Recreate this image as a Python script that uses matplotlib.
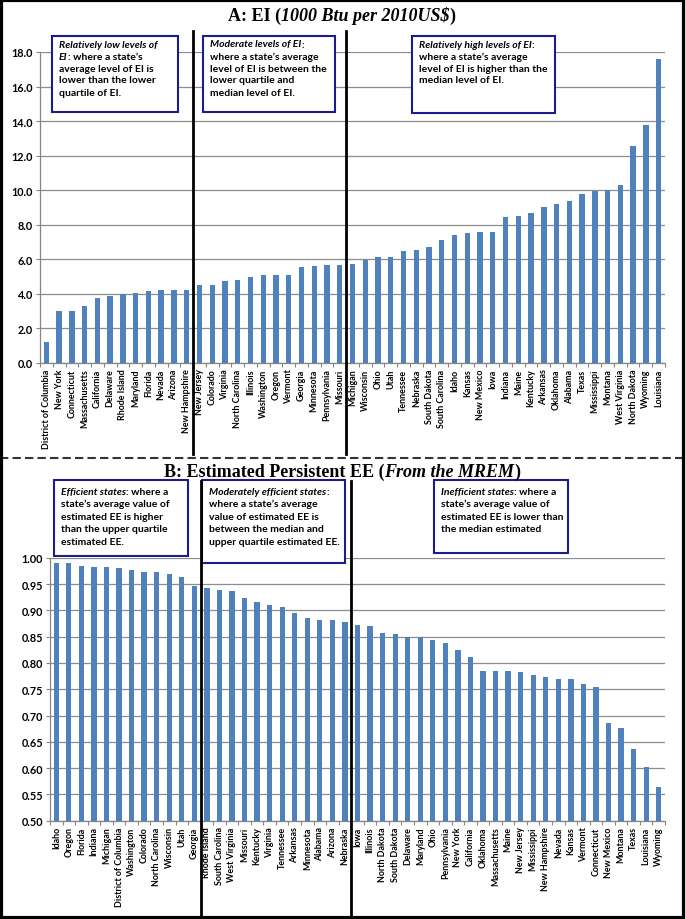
import matplotlib
matplotlib.use('Agg')
import matplotlib.pyplot as plt
from matplotlib.transforms import blended_transform_factory
from matplotlib.patches import Rectangle
from matplotlib.lines import Line2D
import numpy as np

# ---------------- data ----------------
ei_states = ["District of Columbia", "New York", "Connecticut", "Massachusetts", "California",
             "Delaware", "Rhode Island", "Maryland", "Florida", "Nevada", "Arizona", "New Hampshire",
             "New Jersey", "Colorado", "Virginia", "North Carolina", "Illinois", "Washington",
             "Oregon", "Vermont", "Georgia", "Minnesota", "Pennsylvania", "Missouri",
             "Michigan", "Wisconsin", "Ohio", "Utah", "Tennessee", "Nebraska", "South Dakota",
             "South Carolina", "Idaho", "Kansas", "New Mexico", "Iowa", "Indiana", "Maine",
             "Kentucky", "Arkansas", "Oklahoma", "Alabama", "Texas", "Mississippi", "Montana",
             "West Virginia", "North Dakota", "Wyoming", "Louisiana"]
ei_values = [1.24, 3.01, 3.03, 3.28, 3.78, 3.90, 4.00, 4.05, 4.15, 4.21, 4.21, 4.23,
             4.52, 4.52, 4.77, 4.83, 5.00, 5.08, 5.10, 5.10, 5.56, 5.62, 5.68, 5.70,
             5.75, 5.97, 6.14, 6.16, 6.49, 6.56, 6.70, 7.12, 7.39, 7.53, 7.59, 7.59,
             8.44, 8.49, 8.69, 9.03, 9.23, 9.38, 9.81, 9.94, 10.00, 10.33, 12.57, 13.80, 17.62]

ee_states = ["Idaho", "Oregon", "Florida", "Indiana", "Michigan", "District of Columbia",
             "Washington", "Colorado", "North Carolina", "Wisconsin", "Utah", "Georgia",
             "Rhode Island", "South Carolina", "West Virginia", "Missouri", "Kentucky", "Virginia",
             "Tennessee", "Arkansas", "Minnesota", "Alabama", "Arizona", "Nebraska",
             "Iowa", "Illinois", "North Dakota", "South Dakota", "Delaware", "Maryland", "Ohio",
             "Pennsylvania", "New York", "California", "Oklahoma", "Massachusetts", "Maine",
             "New Jersey", "Mississippi", "New Hampshire", "Nevada", "Kansas", "Vermont",
             "Connecticut", "New Mexico", "Montana", "Texas", "Louisiana", "Wyoming"]
ee_values = [0.990, 0.990, 0.984, 0.982, 0.982, 0.980, 0.977, 0.973, 0.973, 0.969, 0.963, 0.946,
             0.942, 0.939, 0.936, 0.924, 0.916, 0.911, 0.907, 0.895, 0.885, 0.882, 0.882, 0.877,
             0.873, 0.871, 0.857, 0.855, 0.849, 0.849, 0.843, 0.838, 0.824, 0.812, 0.785, 0.784,
             0.784, 0.782, 0.777, 0.774, 0.769, 0.769, 0.759, 0.754, 0.686, 0.676, 0.636, 0.603,
             0.565]

ei_yticks = [0, 2, 4, 6, 8, 10, 12, 14, 16, 18]
ee_yticks = [0.50, 0.55, 0.60, 0.65, 0.70, 0.75, 0.80, 0.85, 0.90, 0.95, 1.00]
ei_dividers = [11.5, 23.5]
ee_dividers = [11.5, 23.5]

title_a = [("A: EI (", False), ("1000 Btu per 2010US\\$", True), (")", False)]
title_b = [("B: Estimated Persistent EE (", False), ("From the MREM", True), (")", False)]

boxes_a = [
    [[("Relatively low levels of", True)],
     [("EI", True), (": where a state\u2019s", False)],
     [("average level of EI is", False)],
     [("lower than the lower", False)],
     [("quartile of EI.", False)]],
    [[("Moderate levels of EI", True), (":", False)],
     [("where a state\u2019s average", False)],
     [("level of EI is between the", False)],
     [("lower quartile and", False)],
     [("median level of EI.", False)]],
    [[("Relatively high levels of EI", True), (":", False)],
     [("where a state\u2019s average", False)],
     [("level of EI is higher than the", False)],
     [("median level of EI.", False)]],
]
boxes_b = [
    [[("Efficient states", True), (": where a", False)],
     [("state\u2019s average value of", False)],
     [("estimated EE is higher", False)],
     [("than the upper quartile", False)],
     [("estimated EE.", False)]],
    [[("Moderately efficient states", True), (":", False)],
     [("where a state\u2019s average", False)],
     [("value of estimated EE is", False)],
     [("between the median and", False)],
     [("upper quartile estimated EE.", False)]],
    [[("Inefficient states", True), (": where a", False)],
     [("state\u2019s average value of", False)],
     [("estimated EE is lower than", False)],
     [("the median estimated", False)]],
]

# ---------------- figure ----------------
W, H = 685, 920
fig = plt.figure(figsize=(W / 100, H / 100), dpi=100)
fig.patch.set_facecolor('white')
renderer = fig.canvas.get_renderer()
SANS = 'Lato'
SERIF = 'Liberation Serif'
BAR = '#4F81BD'
GRID = '#8c8c8c'
AXC = '#868686'


def fxy(x, y):
    return x / W, 1 - y / H


def draw_runs(x_px, y_px, runs, size, family, ha='left'):
    objs, widths = [], []
    for s, it in runs:
        t = fig.text(0, 0, s, fontsize=size, family=family, weight='bold',
                     style='italic' if it else 'normal', va='baseline', ha='left', zorder=6)
        widths.append(t.get_window_extent(renderer).width)
        objs.append(t)
    x0 = x_px - sum(widths) / 2 if ha == 'center' else x_px
    for t, w in zip(objs, widths):
        t.set_position(fxy(x0, y_px))
        x0 += w


def setup_axis(ax, states, values, yticks, fmt, ylim):
    x = np.arange(len(states))
    ax.bar(x, values, width=0.42, color=BAR, zorder=3)
    ax.set_xlim(-0.5, len(states) - 0.5)
    ax.set_ylim(*ylim)
    ax.set_yticks(yticks)
    ax.set_yticklabels([fmt % v for v in yticks], fontsize=7.8, family=SANS, weight='bold')
    ax.set_xticks(x)
    ax.set_xticklabels(states, rotation=90, fontsize=6.4, family=SANS, weight='bold')
    ax.set_xticks(np.arange(-0.5, len(states), 1), minor=True)
    ax.tick_params(axis='x', which='major', length=0, pad=4)
    ax.tick_params(axis='x', which='minor', length=3, color=AXC, width=0.8)
    ax.tick_params(axis='y', length=3, color=AXC, width=0.8, pad=2)
    for s in ['top', 'right']:
        ax.spines[s].set_visible(False)
    for s in ['left', 'bottom']:
        ax.spines[s].set_color(AXC)
        ax.spines[s].set_linewidth(0.9)
    ax.yaxis.grid(True, color=GRID, lw=0.9, zorder=0)
    ax.set_axisbelow(True)


axA = fig.add_axes([40 / W, 1 - 364 / H, 625 / W, 311 / H])
setup_axis(axA, ei_states, ei_values, ei_yticks, '%.1f', (0, 18))
axB = fig.add_axes([50 / W, 1 - 821.7 / H, 615 / W, 263 / H])
setup_axis(axB, ee_states, ee_values, ee_yticks, '%.2f', (0.5, 1.0))

# vertical dividers
trA = blended_transform_factory(axA.transData, fig.transFigure)
for d in ei_dividers:
    fig.add_artist(Line2D([d, d], [1 - 32 / H, 1 - 455 / H], transform=trA,
                          color='black', lw=2, zorder=10))
trB = blended_transform_factory(axB.transData, fig.transFigure)
for d in ee_dividers:
    fig.add_artist(Line2D([d, d], [1 - 482 / H, 1 - 918 / H], transform=trB,
                          color='black', lw=2, zorder=10))

# titles
draw_runs(342, 21, title_a, 13, SERIF, ha='center')
draw_runs(342, 477, title_b, 13, SERIF, ha='center')

# boxes
BOXC = '#1c1c8e'
box_a_geom = [(52, 37, 178, 113), (203, 37, 335, 113), (412, 37, 555, 114)]
box_b_geom = [(54, 481, 188, 557), (202, 481, 345, 564), (434, 481, 568, 554)]
for lines, (x0, y0, x1, y1) in zip(boxes_a, box_a_geom):
    fig.add_artist(Rectangle(fxy(x0, y1), (x1 - x0) / W, (y1 - y0) / H, transform=fig.transFigure,
                             facecolor='white', edgecolor=BOXC, lw=1.5, zorder=5))
    for i, runs in enumerate(lines):
        draw_runs(x0 + 7, y0 + 10.5 + 12 * i, runs, 7.5, SANS)
for lines, (x0, y0, x1, y1) in zip(boxes_b, box_b_geom):
    fig.add_artist(Rectangle(fxy(x0, y1), (x1 - x0) / W, (y1 - y0) / H, transform=fig.transFigure,
                             facecolor='white', edgecolor=BOXC, lw=1.5, zorder=5))
    for i, runs in enumerate(lines):
        draw_runs(x0 + 7, y0 + 14 + 12.5 * i, runs, 7.5, SANS)

# panel separator and outer frame
fig.add_artist(Line2D([0, 1], [1 - 459 / H, 1 - 459 / H], transform=fig.transFigure,
                      color='#333333', lw=1.5, dashes=(4, 2), zorder=10))
fig.add_artist(Rectangle((0.0015, 0.001), 0.997, 0.998, transform=fig.transFigure,
                         facecolor='none', edgecolor='black', lw=3, zorder=11))

fig.savefig('out.png', dpi=100)
